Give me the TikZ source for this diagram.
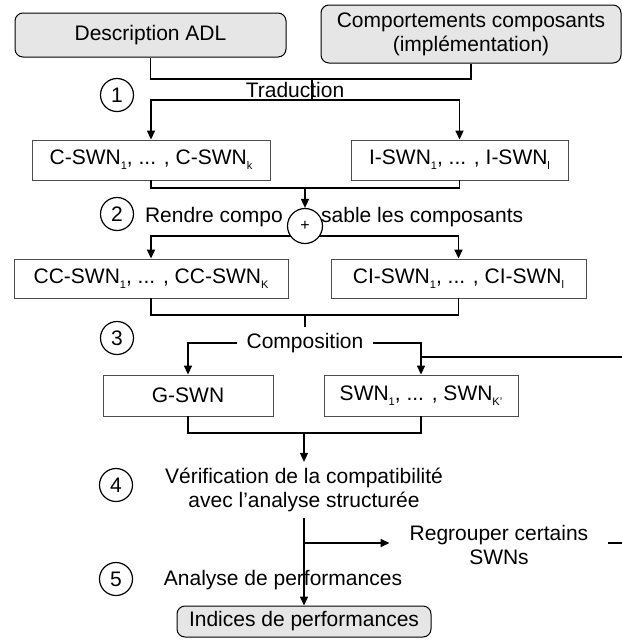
\documentclass[tikz,border=0pt]{standalone}
\usepackage{fontspec}
\setmainfont{Liberation Sans}
\usetikzlibrary{arrows.meta}
\usetikzlibrary{positioning}
\definecolor{flfill}{HTML}{E6E6E6}
\definecolor{flink}{HTML}{000000}
\definecolor{flframe}{HTML}{4D4D4D}
\newcommand{\swnidx}[1]{\raisebox{-5pt}{\fontsize{11}{11}\selectfont #1}}
\tikzset{
  flbox/.style={
    draw=flframe, fill=white, line width=0.9pt, inner sep=0pt},
  flround/.style={
    draw=flink, fill=flfill, rounded corners=8pt, line width=1pt,
    align=center, inner sep=0pt},
  flwire/.style={draw=flink, line width=1.6pt},
  flarrow/.style={flwire, -{Triangle[length=9pt, width=8pt]}},
  flstepmark/.style={
    circle, draw=flink, line width=1.2pt, minimum size=33pt, inner sep=0pt,
    font=\fontsize{21}{21}\selectfont},
  fltext/.style={align=center, inner sep=0pt},
}

\begin{document}
\begin{tikzpicture}[x=1pt, y=-1pt, font=\fontsize{21}{24}\selectfont]
\useasboundingbox (0, 0) rectangle (622, 641);

% Inputs.
\node[flround, minimum width=271pt, minimum height=44pt] (desc)
  at (150.5, 35) {Description ADL};
\node[flround, minimum width=300pt, minimum height=58pt] (comp)
  at (471, 34) {Comportements composants\\(implémentation)};

% Step 1: translation.
\coordinate (j1) at (312, 79);
\coordinate (s1) at (312, 100);
\node[flstepmark] (step1) at (117, 95) {1};
\node[fltext] (trad) at (295, 90) {Traduction};
\node[flbox, minimum width=238pt, minimum height=40pt] (cswn)
  at (151, 160) {C-SWN\swnidx{1}, ... , C-SWN\swnidx{k}};
\node[flbox, minimum width=217pt, minimum height=40pt] (iswn)
  at (459.5, 160) {I-SWN\swnidx{1}, ... , I-SWN\swnidx{l}};
\draw[flwire] (desc.south) |- (j1) -| (comp.south);
\draw[flwire] (j1) -- (s1);
\draw[flarrow] (s1) -| (cswn.north);
\draw[flarrow] (s1) -| (iswn.north);

% Step 2: make the components composable.
\coordinate (m2) at (305, 188);
\coordinate (s2) at (305, 236);
\node[flstepmark] (step2) at (117, 214) {2};
\node[fltext, anchor=east] (rendreA) at (283, 217) {Rendre compo};
\node[fltext, anchor=west] (rendreB) at (321, 217) {sable les composants};
\node[flbox, minimum width=274pt, minimum height=39pt] (cc)
  at (151, 278.5) {CC-SWN\swnidx{1}, ... , CC-SWN\swnidx{K}};
\node[flbox, minimum width=255pt, minimum height=39pt] (ci)
  at (458.5, 278.5) {CI-SWN\swnidx{1}, ... , CI-SWN\swnidx{l}};
\draw[flarrow] (s2) -| (cc.north);
\draw[flarrow] (s2) -| (ci.north);
\node[flstepmark, fill=white, minimum size=35pt,
      font=\fontsize{16}{16}\selectfont] (plus) at (305, 226) {+};
\draw[flwire] (cswn.south) |- (m2) -| (iswn.south);
\draw[flarrow] (m2) -- (plus.north);

% Step 3: composition.
\coordinate (m3) at (305, 315);
\coordinate (t3) at (305, 327);
\node[flstepmark] (step3) at (117, 338) {3};
\node[fltext, inner xsep=9pt] (compo) at (305, 343) {Composition};
\node[flbox, minimum width=170pt, minimum height=41pt] (gswn)
  at (188, 395.5) {G-SWN};
\node[flbox, minimum width=194pt, minimum height=41pt] (swn)
  at (421, 395.5) {SWN\swnidx{1}, ... , SWN\swnidx{K'}};
\draw[flwire] (cc.south) |- (m3) -| (ci.south);
\draw[flwire] (m3) -- (t3);
\draw[flarrow] (compo.west) -| (gswn.north);
\draw[flarrow] (compo.east) -| (swn.north);
\coordinate (fbA) at (421, 357);
\coordinate (fbB) at (622, 357);
\draw[flwire] (fbA) -- (fbB);

% Step 4: check against the structural analysis.
\coordinate (m4) at (304, 433);
\node[flstepmark] (step4) at (116, 485) {4};
\node[fltext, inner ysep=6pt] (verif) at (304, 490)
  {Vérification de la compatibilité\\avec l'analyse structurée};
\node[flround, minimum width=254pt, minimum height=31pt] (indices)
  at (304, 621.5) {Indices de performances};
\draw[flwire] (gswn.south) |- (m4) -| (swn.south);
\draw[flarrow] (m4) -- (m4 |- verif.north);
\draw[flarrow] (verif.south) -- (indices.north);

% Step 5: performance analysis, with the regrouping loop.
\coordinate (b5) at (304, 543);
\coordinate (fbC) at (622, 543);
\node[flstepmark] (step5) at (116, 579) {5};
\node[fltext] (analyse) at (283, 580) {Analyse de performances};
\node[fltext, inner xsep=20pt] (regroup) at (499, 545)
  {Regrouper certains\\SWNs};
\draw[flarrow] (b5) -- (b5 -| regroup.west);
\draw[flwire] (regroup.east |- b5) -- (fbC);

\end{tikzpicture}
\end{document}
